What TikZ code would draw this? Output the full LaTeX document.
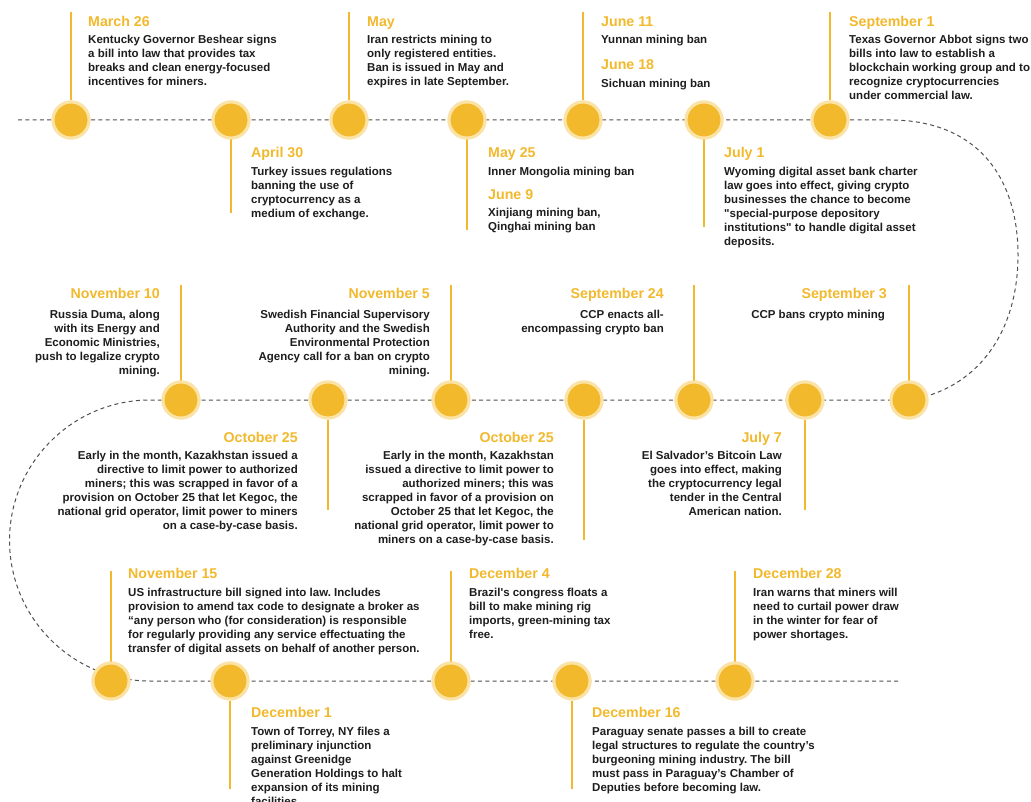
\documentclass[tikz,border=0pt]{standalone}
\usepackage{fontspec}
\setmainfont{Liberation Sans}
\frenchspacing
\definecolor{gold}{HTML}{F2B92C}
\definecolor{halo}{HTML}{FBE3A6}
\definecolor{ink}{HTML}{1E1E1E}
\definecolor{dashgray}{HTML}{505050}
% first line of a block sits on the node's base anchor
\newcommand{\leftlines}[1]{\begin{tabular}[t]{@{}l@{}}#1\end{tabular}}
\newcommand{\rightlines}[1]{\begin{tabular}[t]{@{}r@{}}#1\end{tabular}}

\begin{document}
\begin{tikzpicture}[x=1pt,y=-1pt,
    dot/.style={circle,fill=gold,draw=halo,line width=3pt,minimum size=36pt,inner sep=0pt},
    stem/.style={draw=gold,line width=2pt},
    track/.style={draw=dashgray,line width=1pt,dash pattern=on 4pt off 3.3pt},
    date/.style={inner sep=0pt,text=gold,font=\fontsize{14.2}{17}\selectfont\bfseries},
    note/.style={inner sep=0pt,text=ink,font=\fontsize{11.5}{14}\selectfont\bfseries}]

    \useasboundingbox[fill=white] (0,0) rectangle (1031,802);

    % dashed track, three rows joined by two bends
    \coordinate (start) at (18,120);
    \coordinate (finish) at (900,681);
    \draw[track] (start) -- (890,120) .. controls (975,120) and (1018,175) .. (1018,255)
        .. controls (1018,335) and (975,390) .. (909,400) -- (150,400)
        .. controls (72.7,400) and (9.5,463) .. (9.5,540.5)
        .. controls (9.5,618) and (72.7,681) .. (150,681) -- (finish);

    % row 1
    \node[dot] (a1) at (71,120) {};
    \node[dot] (a2) at (231,120) {};
    \node[dot] (a3) at (349,120) {};
    \node[dot] (a4) at (467,120) {};
    \node[dot] (a5) at (583,120) {};
    \node[dot] (a6) at (704,120) {};
    \node[dot] (a7) at (830,120) {};
    \coordinate (a1s) at (71,12);
    \coordinate (a2s) at (231,213);
    \coordinate (a3s) at (349,12);
    \coordinate (a4s) at (467,230);
    \coordinate (a5s) at (583,12);
    \coordinate (a6s) at (704,227);
    \coordinate (a7s) at (830,12);
    \draw[stem] (a1) -- (a1s) (a3) -- (a3s) (a5) -- (a5s) (a7) -- (a7s);
    \draw[stem] (a2) -- (a2s) (a4) -- (a4s) (a6) -- (a6s);
    \node[dot] at (a1) {}; \node[dot] at (a2) {}; \node[dot] at (a3) {}; \node[dot] at (a4) {};
    \node[dot] at (a5) {}; \node[dot] at (a6) {}; \node[dot] at (a7) {};

    \node[date,anchor=base west] (mar26) at (88,26.5) {March 26};
    \node[note,anchor=base west] (mar26t) at (88,43.5) {\leftlines{Kentucky Governor Beshear signs\\a bill into law that provides tax\\breaks and clean energy-focused\\incentives for miners.}};
    \node[date,anchor=base west] (apr30) at (251,158) {April 30};
    \node[note,anchor=base west] (apr30t) at (251,175.5) {\leftlines{Turkey issues regulations\\banning the use of\\cryptocurrency as a\\medium of exchange.}};
    \node[date,anchor=base west] (may) at (367,26.5) {May};
    \node[note,anchor=base west] (mayt) at (367,43.5) {\leftlines{Iran restricts mining to\\only registered entities.\\Ban is issued in May and\\expires in late September.}};
    \node[date,anchor=base west] (may25) at (488,158) {May 25};
    \node[note,anchor=base west] (may25t) at (488,175.5) {Inner Mongolia mining ban};
    \node[date,anchor=base west] (jun9) at (488,200) {June 9};
    \node[note,anchor=base west] (jun9t) at (488,217) {\leftlines{Xinjiang mining ban,\\Qinghai mining ban}};
    \node[date,anchor=base west] (jun11) at (601,26.5) {June 11};
    \node[note,anchor=base west] (jun11t) at (601,43.5) {Yunnan mining ban};
    \node[date,anchor=base west] (jun18) at (601,69.5) {June 18};
    \node[note,anchor=base west] (jun18t) at (601,88) {Sichuan mining ban};
    \node[date,anchor=base west] (jul1) at (724,158) {July 1};
    \node[note,anchor=base west] (jul1t) at (724,175.5) {\leftlines{Wyoming digital asset bank charter\\law goes into effect, giving crypto\\businesses the chance to become\\\textquotedbl special-purpose depository\\institutions\textquotedbl{} to handle digital asset\\deposits.}};
    \node[date,anchor=base west] (sep1) at (849,26.5) {September 1};
    \node[note,anchor=base west] (sep1t) at (849,43.5) {\leftlines{Texas Governor Abbot signs two\\bills into law to establish a\\blockchain working group and to\\recognize cryptocurrencies\\under commercial law.}};

    % row 2
    \node[dot] (b1) at (181,400) {};
    \node[dot] (b2) at (328,400) {};
    \node[dot] (b3) at (451,400) {};
    \node[dot] (b4) at (584,400) {};
    \node[dot] (b5) at (694,400) {};
    \node[dot] (b6) at (805,400) {};
    \node[dot] (b7) at (909,400) {};
    \coordinate (b1s) at (181,285);
    \coordinate (b2s) at (328,510);
    \coordinate (b3s) at (451,285);
    \coordinate (b4s) at (584,540);
    \coordinate (b5s) at (694,285);
    \coordinate (b6s) at (805,510);
    \coordinate (b7s) at (909,285);
    \draw[stem] (b1) -- (b1s) (b3) -- (b3s) (b5) -- (b5s) (b7) -- (b7s);
    \draw[stem] (b2) -- (b2s) (b4) -- (b4s) (b6) -- (b6s);
    \node[dot] at (b1) {}; \node[dot] at (b2) {}; \node[dot] at (b3) {}; \node[dot] at (b4) {};
    \node[dot] at (b5) {}; \node[dot] at (b6) {}; \node[dot] at (b7) {};

    \node[date,anchor=base east] (nov10) at (160,298.5) {November 10};
    \node[note,anchor=base east] (nov10t) at (160,318.5) {\rightlines{Russia Duma, along\\with its Energy and\\Economic Ministries,\\push to legalize crypto\\mining.}};
    \node[date,anchor=base east] (oct25a) at (298,442) {October 25};
    \node[note,anchor=base east] (oct25at) at (298,459.5) {\rightlines{Early in the month, Kazakhstan issued a\\directive to limit power to authorized\\miners; this was scrapped in favor of a\\provision on October 25 that let Kegoc, the\\national grid operator, limit power to miners\\on a case-by-case basis.}};
    \node[date,anchor=base east] (nov5) at (430,298.5) {November 5};
    \node[note,anchor=base east] (nov5t) at (430,318.5) {\rightlines{Swedish Financial Supervisory\\Authority and the Swedish\\Environmental Protection\\Agency call for a ban on crypto\\mining.}};
    \node[date,anchor=base east] (oct25b) at (554,442) {October 25};
    \node[note,anchor=base east] (oct25bt) at (554,459.5) {\rightlines{Early in the month, Kazakhstan\\issued a directive to limit power to\\authorized miners; this was\\scrapped in favor of a provision on\\October 25 that let Kegoc, the\\national grid operator, limit power to\\miners on a case-by-case basis.}};
    \node[date,anchor=base east] (sep24) at (664,298.5) {September 24};
    \node[note,anchor=base east] (sep24t) at (664,318.5) {\rightlines{CCP enacts all-\\encompassing crypto ban}};
    \node[date,anchor=base east] (jul7) at (782,442) {July 7};
    \node[note,anchor=base east] (jul7t) at (782,459.5) {\rightlines{El Salvador’s Bitcoin Law\\goes into effect, making\\the cryptocurrency legal\\tender in the Central\\American nation.}};
    \node[date,anchor=base east] (sep3) at (887,298.5) {September 3};
    \node[note,anchor=base east] (sep3t) at (885,318.5) {CCP bans crypto mining};

    % row 3
    \node[dot] (c1) at (111,681) {};
    \node[dot] (c2) at (230,681) {};
    \node[dot] (c3) at (451,681) {};
    \node[dot] (c4) at (572,681) {};
    \node[dot] (c5) at (735,681) {};
    \coordinate (c1s) at (111,571);
    \coordinate (c2s) at (230,789);
    \coordinate (c3s) at (451,571);
    \coordinate (c4s) at (572,789);
    \coordinate (c5s) at (735,571);
    \draw[stem] (c1) -- (c1s) (c3) -- (c3s) (c5) -- (c5s);
    \draw[stem] (c2) -- (c2s) (c4) -- (c4s);
    \node[dot] at (c1) {}; \node[dot] at (c2) {}; \node[dot] at (c3) {};
    \node[dot] at (c4) {}; \node[dot] at (c5) {};

    \node[date,anchor=base west] (nov15) at (128,578.5) {November 15};
    \node[note,anchor=base west] (nov15t) at (128,596.5) {\leftlines{US infrastructure bill signed into law. Includes\\provision to amend tax code to designate a broker as\\“any person who (for consideration) is responsible\\for regularly providing any service effectuating the\\transfer of digital assets on behalf of another person.}};
    \node[date,anchor=base west] (dec1) at (251,717) {December 1};
    \node[note,anchor=base west] (dec1t) at (251,735) {\leftlines{Town of Torrey, NY files a\\preliminary injunction\\against Greenidge\\Generation Holdings to halt\\expansion of its mining\\facilities.}};
    \node[date,anchor=base west] (dec4) at (469,578.5) {December 4};
    \node[note,anchor=base west] (dec4t) at (469,596.5) {\leftlines{Brazil\textquotesingle s congress floats a\\bill to make mining rig\\imports, green-mining tax\\free.}};
    \node[date,anchor=base west] (dec16) at (592,717) {December 16};
    \node[note,anchor=base west] (dec16t) at (592,735) {\leftlines{Paraguay senate passes a bill to create\\legal structures to regulate the country’s\\burgeoning mining industry. The bill\\must pass in Paraguay’s Chamber of\\Deputies before becoming law.}};
    \node[date,anchor=base west] (dec28) at (753,578.5) {December 28};
    \node[note,anchor=base west] (dec28t) at (753,596.5) {\leftlines{Iran warns that miners will\\need to curtail power draw\\in the winter for fear of\\power shortages.}};
\end{tikzpicture}
\end{document}
